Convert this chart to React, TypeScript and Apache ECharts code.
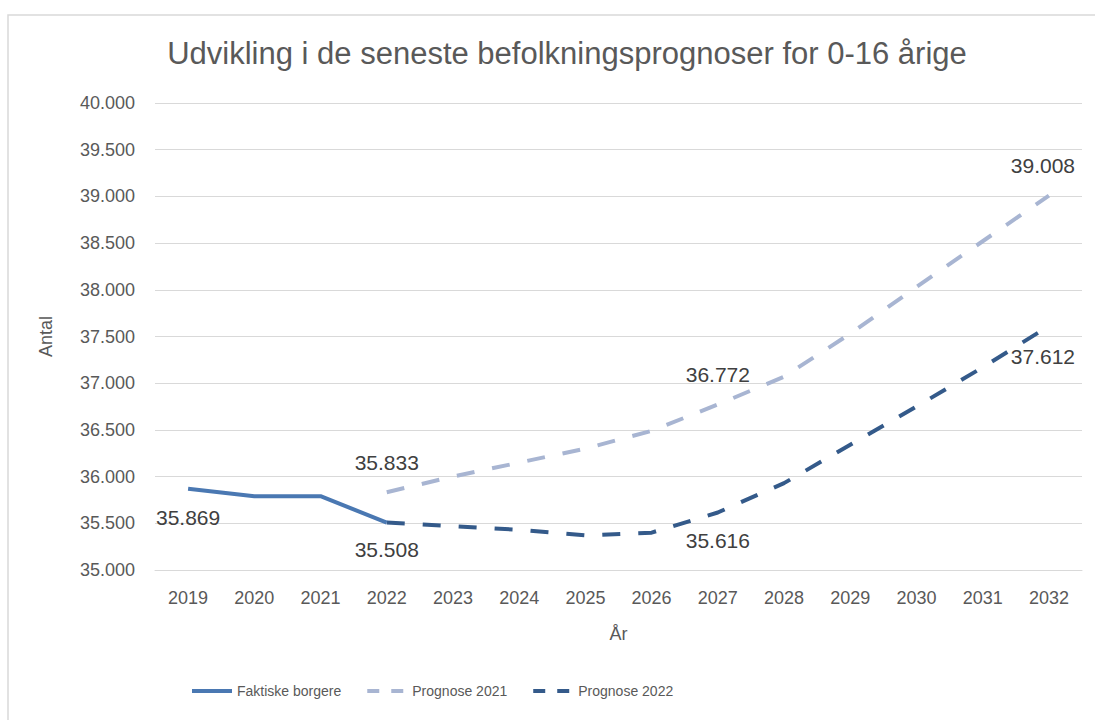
import React, { useEffect, useRef } from "react";
import * as echarts from "echarts";

const years = ["2019", "2020", "2021", "2022", "2023", "2024", "2025", "2026", "2027", "2028", "2029", "2030", "2031", "2032"];
const faktiske = [35869, 35790, 35790, 35508, null, null, null, null, null, null, null, null, null, null];
const prognose2021 = [null, null, null, 35833, 36000, 36150, 36300, 36490, 36772, 37070, 37530, 38030, 38520, 39008];
const prognose2022 = [null, null, null, 35508, 35470, 35430, 35370, 35400, 35616, 35930, 36340, 36750, 37170, 37612];
const yTicks = [35000, 35500, 36000, 36500, 37000, 37500, 38000, 38500, 39000, 39500, 40000];

const title = "Udvikling i de seneste befolkningsprognoser for 0-16 årige";
const FONT = "'Liberation Sans', sans-serif";

const C_FAKT = "#4A78B2";
const C_P21 = "#A8B5D2";
const C_P22 = "#345A8A";

const fmt = (v: number) => String(v).replace(/\B(?=(\d{3})+(?!\d))/g, ".");

export default function App() {
  const ref = useRef<HTMLDivElement>(null);
  useEffect(() => {
    if (!ref.current) return;
    const chart = echarts.init(ref.current, null, { renderer: "svg" });
    const lbl = (pos: string, offset: number[] = [0, 0], distance = 19) => ({
      show: true,
      position: pos,
      distance,
      offset,
      formatter: (p: any) => fmt(p.value),
      color: "#404040",
      fontSize: 21,
      fontFamily: FONT,
    });
    const withLabels = (arr: (number | null)[], labels: Record<number, any>) =>
      arr.map((v, i) => (labels[i] && v != null ? { value: v, label: labels[i] } : v));

    chart.setOption({
      animation: false,
      backgroundColor: "#ffffff",
      textStyle: { fontFamily: FONT },
      title: {
        text: title,
        left: 562,
        textAlign: "center",
        top: 33,
        textStyle: { fontSize: 31, fontWeight: "normal", color: "#595959", fontFamily: FONT },
      },
      graphic: [
        {
          type: "rect",
          z: -10,
          shape: { x: 8, y: 15, width: 1200, height: 800 },
          style: { fill: "none", stroke: "#d9d9d9", lineWidth: 1.5 },
        },
      ],
      legend: {
        bottom: 17,
        left: 185,
        itemWidth: 40,
        itemHeight: 14,
        itemGap: 24,
        itemStyle: { opacity: 0 },
        textStyle: { fontSize: 14, color: "#595959", fontFamily: FONT },
        data: [
          { name: "Faktiske borgere", lineStyle: { width: 4 } },
          { name: "Prognose 2021", lineStyle: { width: 4, type: [12, 12] } },
          { name: "Prognose 2022", lineStyle: { width: 4, type: [12, 12] } },
        ],
      },
      grid: { left: 155, right: 13, top: 103, bottom: 150, containLabel: false },
      xAxis: {
        type: "category",
        data: years,
        boundaryGap: true,
        name: "År",
        nameLocation: "middle",
        nameGap: 55,
        nameTextStyle: { fontSize: 18, color: "#595959", fontFamily: FONT },
        axisLine: { show: true, lineStyle: { color: "#d9d9d9", width: 1 } },
        axisTick: { show: false },
        axisLabel: { color: "#595959", fontSize: 18, margin: 19, fontFamily: FONT },
      },
      yAxis: {
        type: "value",
        min: yTicks[0],
        max: yTicks[yTicks.length - 1],
        interval: 500,
        name: "Antal",
        nameLocation: "middle",
        nameGap: 100,
        nameTextStyle: { fontSize: 18, color: "#595959", fontFamily: FONT },
        axisLine: { show: false },
        axisTick: { show: false },
        splitLine: { lineStyle: { color: "#d9d9d9", width: 1 } },
        axisLabel: { color: "#595959", fontSize: 18, margin: 20, formatter: (v: number) => fmt(v), fontFamily: FONT },
      },
      series: [
        {
          name: "Faktiske borgere",
          type: "line",
          symbol: "circle",
          symbolSize: 0,
          showSymbol: true,
          data: withLabels(faktiske, { 0: lbl("bottom", [0, 0], 18) }),
          lineStyle: { color: C_FAKT, width: 4 },
          itemStyle: { color: C_FAKT },
          z: 3,
        },
        {
          name: "Prognose 2021",
          type: "line",
          symbol: "circle",
          symbolSize: 0,
          showSymbol: true,
          data: withLabels(prognose2021, { 3: lbl("top"), 8: lbl("top"), 13: lbl("top", [-6, 0], 20) }),
          lineStyle: { color: C_P21, width: 4, type: [18, 18] },
          itemStyle: { color: C_P21 },
          z: 2,
        },
        {
          name: "Prognose 2022",
          type: "line",
          symbol: "circle",
          symbolSize: 0,
          showSymbol: true,
          data: withLabels(prognose2022, { 3: lbl("bottom", [0, 0], 16), 8: lbl("bottom", [0, 0], 18), 13: lbl("bottom", [-6, 0], 20) }),
          lineStyle: { color: C_P22, width: 4, type: [18, 18] },
          itemStyle: { color: C_P22 },
          z: 2,
        },
      ],
    });
    return () => chart.dispose();
  }, []);
  return <div ref={ref} style={{ position: "fixed", left: 0, top: 0, width: 1095, height: 720 }} />;
}
